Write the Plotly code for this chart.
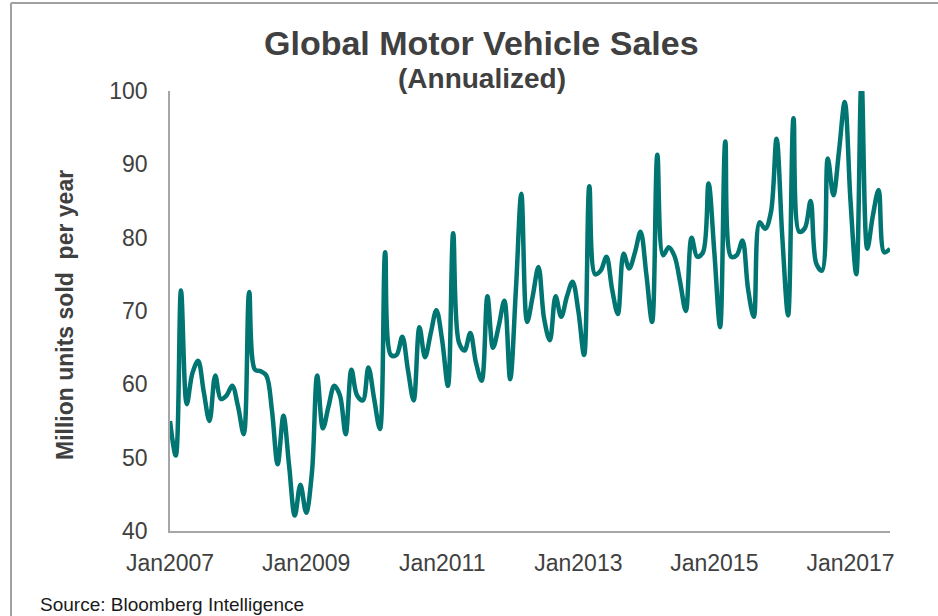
import plotly.graph_objects as go
import pandas as pd

# Monthly global motor vehicle sales, annualized (million units), Jan 2007 - Aug 2017
sales = [
    # 2007
    55, 50.3, 72.8, 57.3, 61.5, 63.2, 59, 55, 61.2, 58, 58.5, 59.8,
    # 2008
    57, 53.2, 72.6, 62, 61.8, 61.2, 56.5, 49.1, 55.7, 49, 42.1, 46.3,
    # 2009
    42.5, 48, 61.2, 54, 57, 59.8, 58.5, 53.2, 62, 58.5, 57.8, 62.3,
    # 2010
    58, 53.9, 78, 64, 64, 66.5, 62, 57.8, 67.8, 63.7, 67, 70.1,
    # 2011
    66, 59.8, 80.6, 65.7, 64.6, 67, 63, 60.5, 72, 65, 68, 71.4,
    # 2012
    60.7, 73, 86, 68.5, 72, 76, 69, 66, 72, 69.2, 72, 74,
    # 2013
    70, 64, 87, 75, 75.5, 77.4, 73, 69.6, 77.8, 75.8, 78, 80.8,
    # 2014
    75, 68.5, 91.3, 77.6, 78.7, 77.5, 74, 70, 80, 77.4, 78, 87.4,
    # 2015
    78, 67.8, 93.1, 77.4, 77.6, 79.6, 73, 69.2, 82.1, 81.2, 83.5, 93.5,
    # 2016
    80, 69.4, 96.3, 80.8, 81.3, 85, 76.5, 75.5, 90.8, 85.8, 92, 98.5,
    # 2017
    85, 75, 101.5, 78.5, 83, 86.5, 78, 78.5,
]
months = pd.date_range("2007-01-01", periods=len(sales), freq="MS")

x_tick_vals = ["2007-01-01", "2009-01-01", "2011-01-01", "2013-01-01", "2015-01-01", "2017-01-01"]
x_tick_text = ["Jan2007", "Jan2009", "Jan2011", "Jan2013", "Jan2015", "Jan2017"]
y_tick_vals = [40, 50, 60, 70, 80, 90, 100]

title_text = "Global Motor Vehicle Sales"
subtitle_text = "(Annualized)"
y_title = "Million units sold\u00a0 per year"
source_text = "Source: Bloomberg Intelligence"

FONT = "Liberation Sans, Arial, sans-serif"
TEXT_COLOR = "#404040"
AXIS_COLOR = "#a6a6a6"
LINE_COLOR = "#007571"

fig = go.Figure()
fig.add_trace(go.Scatter(
    x=months, y=sales, mode="lines",
    line=dict(color=LINE_COLOR, width=4.5, shape="spline", smoothing=1.0),
    hoverinfo="x+y", showlegend=False,
))

fig.update_layout(
    width=938, height=616,
    margin=dict(l=170, r=48, t=91, b=85),
    paper_bgcolor="white", plot_bgcolor="white",
    font=dict(family=FONT, color=TEXT_COLOR),
    xaxis=dict(
        range=["2007-01-01", "2017-08-01"],
        tickvals=x_tick_vals, ticktext=x_tick_text,
        showgrid=False, zeroline=False,
        showline=True, linecolor=AXIS_COLOR, linewidth=1.5,
        ticks="", tickfont=dict(size=23, color=TEXT_COLOR, family=FONT),
        ticklabelstandoff=11,
    ),
    yaxis=dict(
        range=[40, 100],
        tickvals=y_tick_vals,
        showgrid=False, zeroline=False,
        showline=True, linecolor=AXIS_COLOR, linewidth=1.5,
        ticks="", tickfont=dict(size=23, color=TEXT_COLOR, family=FONT),
        ticklabelstandoff=16,
    ),
    annotations=[
        dict(text="<b>" + title_text + "</b>", xref="paper", yref="paper",
             x=0.4333, y=1.109, xanchor="center", yanchor="middle", showarrow=False,
             font=dict(size=34, color=TEXT_COLOR, family=FONT)),
        dict(text="<b>" + subtitle_text + "</b>", xref="paper", yref="paper",
             x=0.4333, y=1.0295, xanchor="center", yanchor="middle", showarrow=False,
             font=dict(size=28, color=TEXT_COLOR, family=FONT)),
        dict(text="<b>" + y_title + "</b>", xref="paper", yref="paper",
             x=-0.1458, y=0.491, xanchor="center", yanchor="middle", showarrow=False,
             textangle=-90, font=dict(size=23, color=TEXT_COLOR, family=FONT)),
        dict(text=source_text, xref="paper", yref="paper",
             x=-0.1833, y=-0.166, xanchor="left", yanchor="middle", showarrow=False,
             font=dict(size=19, color="#1a1a1a", family=FONT)),
    ],
    shapes=[
        dict(type="line", xref="paper", yref="paper", x0=-0.2208, x1=-0.2208, y0=1.2, y1=-0.3,
             line=dict(color="#a0a0a0", width=2)),
        dict(type="line", xref="paper", yref="paper", x0=-0.2208, x1=1.2, y0=1.2, y1=1.2,
             line=dict(color="#a0a0a0", width=2)),
    ],
)

fig.write_html(
    "out.html",
    config={"displayModeBar": False},
    post_script="document.body.style.margin='0';document.body.style.overflow='hidden';",
)
